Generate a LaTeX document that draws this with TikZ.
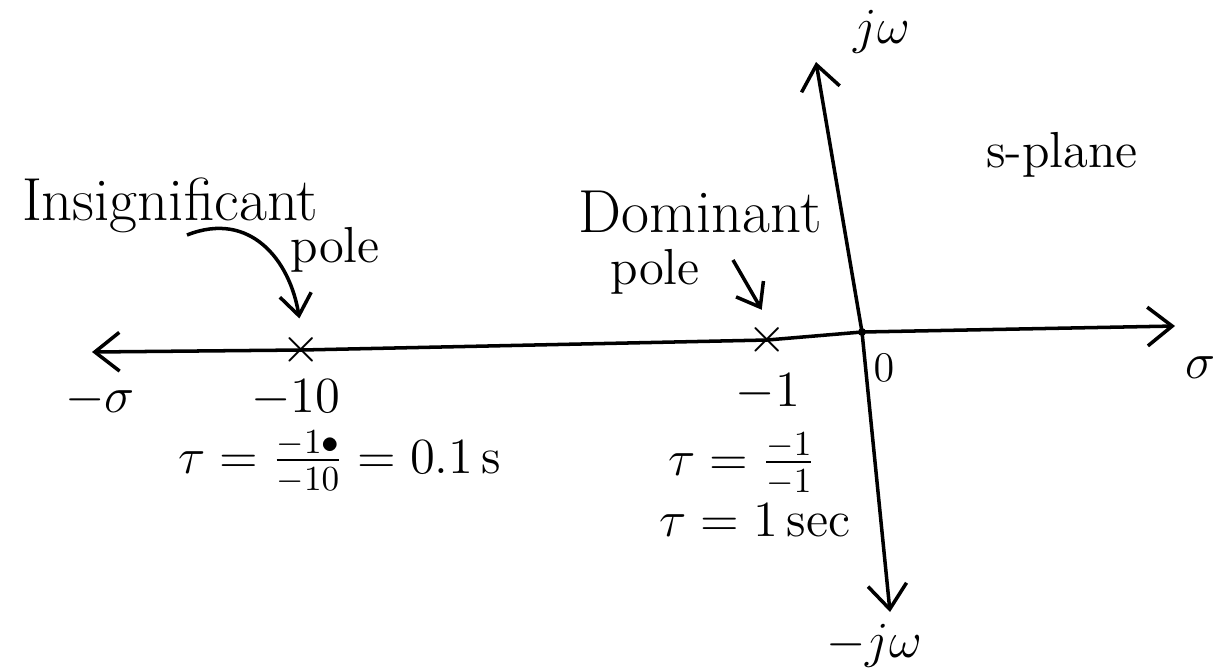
\documentclass[tikz,border=0pt]{standalone}
\usepackage{amsmath}
\usetikzlibrary{arrows.meta}
\begin{document}
\begin{tikzpicture}[
  x=0.01cm, y=-0.01cm,
  every node/.style={font=\Large, inner sep=1pt},
  axis/.style={line width=1pt, -{Straight Barb[length=7pt,width=11pt]}},
  pointer/.style={line width=1pt, -{Straight Barb[length=6pt,width=9pt]}, shorten >=3pt}
  ]
  \useasboundingbox (0,0) rectangle (1213,669);

  % Axes
  \coordinate (O) at (862,332);
  \coordinate (west) at (92,352);
  \coordinate (east) at (1175,326);
  \coordinate (north) at (816,62);
  \coordinate (south) at (890,612);

  % Poles
  \node (p10) at (301,350) {$\times$};
  \node (p1) at (767,340) {$\times$};

  \draw[axis] (O) -- (p1.center) -- (p10.center) -- (west);
  \draw[axis] (O) -- (east);
  \draw[axis] (O) -- (north);
  \draw[axis] (O) -- (south);
  \fill (O) circle (4);

  % Axis labels
  \node (jw) at (882,32) {$j\omega$};
  \node (mjw) at (874,646) {$-j\omega$};
  \node (sig) at (1200,368) {$\sigma$};
  \node (msig) at (100,400) {$-\sigma$};
  \node[font=\large] (zero) at (884,368) {$0$};
  \node (splane) at (1062,155) {s-plane};

  % Pole values
  \node (v10) at (296,398) {$-10$};
  \node (v1) at (768,392) {$-1$};

  % Insignificant pole
  \node[font=\LARGE] (ins) at (170,205) {Insignificant};
  \node (inspole) at (335,250) {pole};
  \coordinate (instail) at (187,235);
  \draw[pointer] (instail) .. controls (250,210) and (290,260) .. (p10.north);

  % Dominant pole
  \node[font=\LARGE] (dom) at (700,212) {Dominant};
  \node (dompole) at (655,272) {pole};
  \coordinate (domtail) at (733,260);
  \draw[pointer] (domtail) -- (p1.north);

  % Time constants
  \node (tau10) at (340,462) {$\tau = \frac{-1\bullet}{-10} = 0.1\,\mathrm{s}$};
  \node (tau1) at (742,464) {$\tau = \frac{-1}{-1}$};
  \node (tausec) at (755,520) {$\tau = 1\,\mathrm{sec}$};
\end{tikzpicture}
\end{document}
